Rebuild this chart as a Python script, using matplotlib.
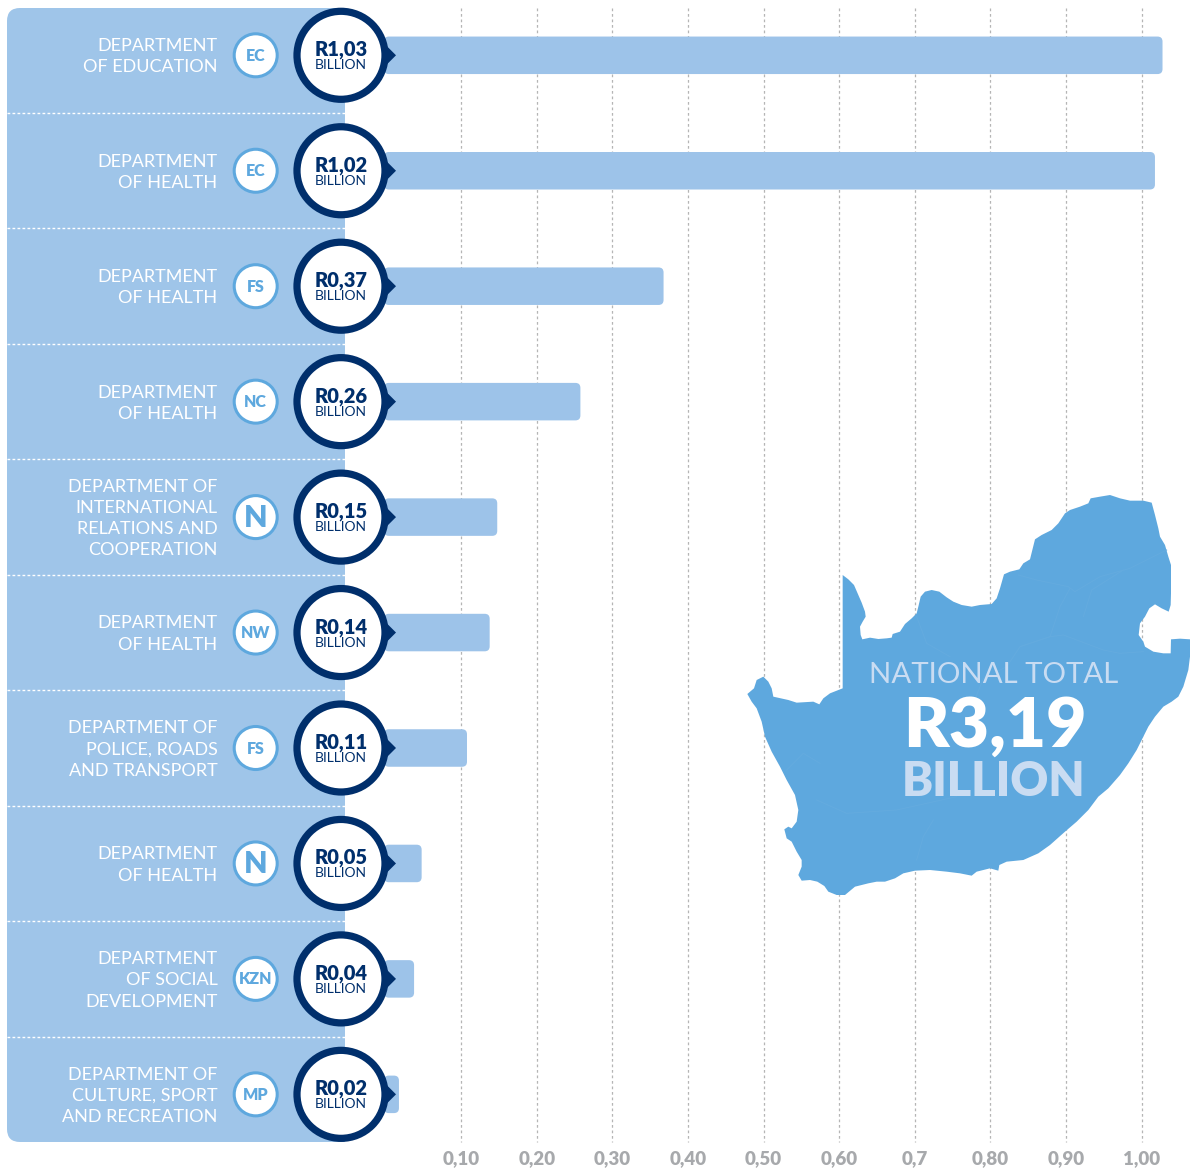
import numpy as np
import matplotlib
matplotlib.use("Agg")
import matplotlib.pyplot as plt
from matplotlib.patches import Circle, FancyBboxPatch, Polygon

plt.rcParams["font.family"] = ["Lato", "DejaVu Sans"]

# data
departments = [
    "DEPARTMENT\nOF EDUCATION",
    "DEPARTMENT\nOF HEALTH",
    "DEPARTMENT\nOF HEALTH",
    "DEPARTMENT\nOF HEALTH",
    "DEPARTMENT OF\nINTERNATIONAL\nRELATIONS AND\nCOOPERATION",
    "DEPARTMENT\nOF HEALTH",
    "DEPARTMENT OF\nPOLICE, ROADS\nAND TRANSPORT",
    "DEPARTMENT\nOF HEALTH",
    "DEPARTMENT\nOF SOCIAL\nDEVELOPMENT",
    "DEPARTMENT OF\nCULTURE, SPORT\nAND RECREATION",
]
provinces = ["EC", "EC", "FS", "NC", "N", "NW", "FS", "N", "KZN", "MP"]
values = [1.03, 1.02, 0.37, 0.26, 0.15, 0.14, 0.11, 0.05, 0.04, 0.02]
value_labels = ["R1,03", "R1,02", "R0,37", "R0,26", "R0,15", "R0,14", "R0,11", "R0,05", "R0,04", "R0,02"]
tick_values = [0.10, 0.20, 0.30, 0.40, 0.50, 0.60, 0.70, 0.80, 0.90, 1.00]
tick_labels = ["0,10", "0,20", "0,30", "0,40", "0,50", "0,60", "0,7", "0,80", "0,90", "1,00"]

# outline of the country (zoomed crop coords)
map_outline = [
    (338,285),(355,298),(372,315),(385,345),(395,368),(405,395),(407,410),(398,425),(390,440),(392,465),
    (397,478),(420,473),(445,477),(470,475),(485,473),(488,462),(510,455),(525,432),(545,415),(560,400),
    (565,380),(572,350),(585,335),(605,330),(628,335),(650,352),(670,365),(695,375),(725,380),(750,375),
    (785,372),(800,355),(810,325),(822,283),(840,275),(868,268),(880,250),(900,238),(907,210),(915,178),
    (935,165),(965,150),(985,130),(1005,100),(1020,90),(1050,80),(1075,70),(1082,55),(1110,50),(1140,45),
    (1170,55),(1200,62),(1240,62),(1265,68),(1275,105),(1285,145),(1290,170),(1305,195),(1315,230),(1323,255),
    (1323,340),(1322,375),(1316,395),(1295,385),(1275,373),(1258,385),(1245,410),(1230,430),(1226,465),(1240,485),
    (1245,500),(1270,515),(1300,520),(1322,520),(1323,478),(1350,476),(1380,478),(1380,530),(1375,570),(1360,620),
    (1345,650),(1325,665),(1300,680),(1275,710),(1255,740),(1240,770),(1220,810),(1195,850),(1170,885),(1135,925),
    (1105,950),(1075,990),(1040,1025),(1005,1055),(960,1095),(925,1120),(880,1140),(830,1145),(808,1155),(805,1172),
    (780,1165),(740,1175),(725,1187),(690,1180),(650,1175),(600,1170),(555,1172),(520,1180),(495,1195),(465,1205),
    (440,1205),(415,1210),(375,1220),(345,1245),(320,1245),(295,1235),(283,1218),(262,1205),(240,1200),(215,1202),
    (205,1185),(215,1160),(215,1140),(200,1115),(185,1085),(170,1075),(163,1048),(175,1040),(185,1045),(200,1025),
    (205,990),(195,945),(170,900),(150,860),(125,815),(105,770),(95,725),(80,685),(65,665),(52,642),
    (72,625),(80,600),(100,590),(115,605),(125,625),(130,650),(175,660),(200,668),(250,665),(268,673),
    (280,655),(300,640),(338,625),
]

# faint province borders, same crop coords
borders = [
    [(865,285),(920,300),(1015,320),(1035,335),(1110,290),(1200,265),(1310,210)],
    [(960,470),(990,380),(1020,325)],
    [(960,470),(1000,465),(1120,510),(1170,520),(1240,515)],
    [(960,470),(870,500),(830,560),(760,595),(730,670)],
    [(560,410),(590,490),(660,530)],
    [(1060,410),(1085,330),(1180,270)],
    [(170,870),(220,820),(270,850)],
    [(260,960),(350,1000),(500,990),(680,950)],
    [(610,1020),(580,1070),(560,1140)],
]

W, H = 1190, 1169
PANEL = "#9FC5E9"
BAR = "#9DC3E9"
MAP = "#5EA8DE"
NAVY = "#002F6C"
PALE = "#C9DCF2"
GREY = "#A7A9AC"

ROW_TOP = 55.3   # centre of first row in px
ROW_STEP = 115.45
X0 = 385.5       # px position of value 0
PX_PER_UNIT = 756.0
BAR_SHIFT = -0.0022  # bars sit a hair left of the gridlines in the original


def row_y(i):
    return ROW_TOP + i * ROW_STEP


def to_px(x, y):
    return (730 + x / 3, 480 + y / 3)


fig = plt.figure(figsize=(W / 100, H / 100), dpi=100, facecolor="white")

# data axes: bars + gridlines, covers whole figure
ax = fig.add_axes([0, 0, 1, 1], zorder=1)
ax.set_xlim(-X0 / PX_PER_UNIT, (W - X0) / PX_PER_UNIT)
ax.set_ylim((H - ROW_TOP) / ROW_STEP, -ROW_TOP / ROW_STEP)
ax.axis("off")

for t in tick_values:
    ax.plot([t, t], [(8 - ROW_TOP) / ROW_STEP, (1142 - ROW_TOP) / ROW_STEP],
            color="#B5B5B5", lw=0.9, ls=(0, (2.2, 2.2)), zorder=1)

bar_h = 37.5 / ROW_STEP
for i, v in enumerate(values):
    ax.add_patch(FancyBboxPatch((BAR_SHIFT, i - bar_h / 2), v, bar_h,
                                boxstyle="round,pad=0,rounding_size=0.0066",
                                mutation_aspect=PX_PER_UNIT / ROW_STEP,
                                fc=BAR, ec="none", zorder=2))

# pixel axes on top for the panel, map and badges
over = fig.add_axes([0, 0, 1, 1], zorder=2)
over.set_xlim(0, W)
over.set_ylim(H, 0)
over.axis("off")
over.patch.set_alpha(0)

# left panel, only left corners rounded so the right side sticks out under a plain rect
over.add_patch(FancyBboxPatch((7, 8), 60, 1134, boxstyle="round,pad=0,rounding_size=13",
                              fc=PANEL, ec="none", zorder=1))
over.add_patch(plt.Rectangle((30, 8), 315, 1134, fc=PANEL, ec="none", zorder=1))

for i in range(len(values) - 1):
    y = row_y(i) + ROW_STEP / 2
    over.plot([7, 345], [y, y], color="white", lw=1.0, ls=(0, (2, 1.6)), zorder=2)

# map
over.add_patch(Polygon([to_px(x, y) for x, y in map_outline], closed=True, fc=MAP, ec="none", zorder=1))
for line in borders:
    xs, ys = zip(*[to_px(x, y) for x, y in line])
    over.plot(xs, ys, color="#64ABDF", lw=0.7, zorder=2)
over.text(993.5, 675, "NATIONAL TOTAL", color=PALE, fontsize=21.2, ha="center", va="center", zorder=3)
over.text(994.5, 727, "R3,19", color="white", fontsize=50, fontweight="heavy", ha="center", va="center", zorder=3)
over.text(993.5, 782, "BILLION", color=PALE, fontsize=33.7, fontweight="heavy", ha="center", va="center", zorder=3)

# rows
for i, (dep, prov, lab) in enumerate(zip(departments, provinces, value_labels)):
    y = row_y(i)
    over.text(217.5, y + 1.5, dep, color="white", fontsize=13, ha="right", va="center",
              multialignment="right", linespacing=1.4, zorder=3)

    over.add_patch(Circle((255.7, y), 21.5, fc="white", ec=MAP, lw=2.2, zorder=3))
    over.text(255.7, y + 0.5, prov, color=MAP, ha="center", va="center", fontweight="heavy",
              fontsize=22 if prov == "N" else 11.5, zorder=4)

    over.add_patch(Polygon([(384, y - 12), (396, y), (384, y + 12)], closed=True, fc=NAVY, ec="none", zorder=3))
    over.add_patch(Circle((341, y), 44, fc="white", ec=NAVY, lw=5.2, zorder=4))
    over.text(341, y - 5.5, lab, color=NAVY, fontsize=14.5, fontweight="heavy", ha="center", va="center", zorder=5)
    over.text(341, y + 10, "BILLION", color=NAVY, fontsize=10, ha="center", va="center", zorder=5)

for t, lab in zip(tick_values, tick_labels):
    over.text(X0 + t * PX_PER_UNIT, 1159, lab, color=GREY, fontsize=13.5, fontweight="heavy",
              ha="center", va="center")

fig.savefig("out.png", dpi=100)
